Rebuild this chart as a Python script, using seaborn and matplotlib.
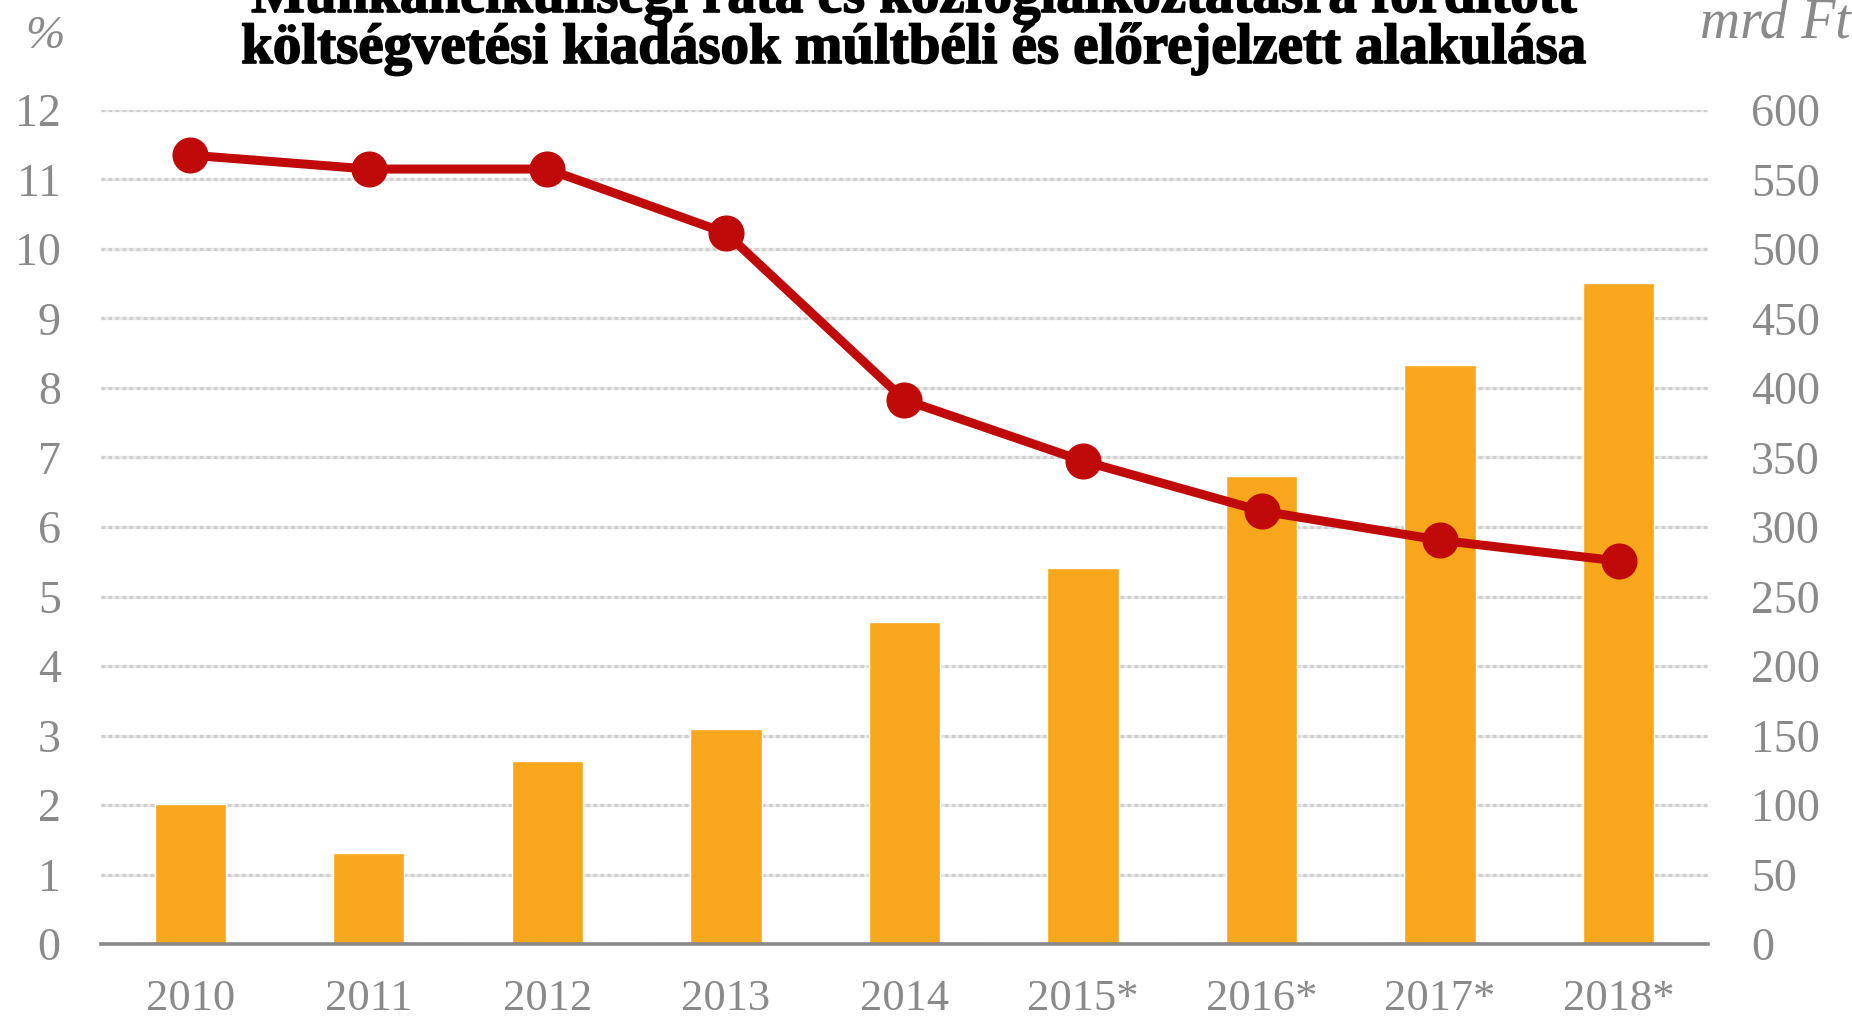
import matplotlib
matplotlib.use("Agg")
import matplotlib.pyplot as plt
import matplotlib.patheffects as pe
import seaborn as sns
import numpy as np
import pandas as pd

# ---- data ----
years = ["2010", "2011", "2012", "2013", "2014", "2015*", "2016*", "2017*", "2018*"]
spending_bn_huf = [101, 65.5, 132, 155, 232, 270.5, 337, 416.5, 475.5]    # right axis, mrd Ft
unemployment_pct = [11.35, 11.15, 11.15, 10.23, 7.83, 6.95, 6.23, 5.81, 5.51]  # left axis, %
left_ticks = list(range(0, 13, 1))
right_ticks = list(range(0, 601, 50))
title_line1 = "Munkanélküliségi ráta és közfoglalkoztatásra fordított"
title_line2 = "költségvetési kiadások múltbéli és előrejelzett alakulása"
left_unit = "%"
right_unit = "mrd Ft"

BAR = "#F8A71D"
RED = "#C00A0A"
TICK = "#8A8A8A"
SERIF = ["Liberation Serif", "DejaVu Serif"]

sns.set_theme(style="white")
plt.rcParams["font.family"] = SERIF

df = pd.DataFrame({"year": years, "spending": spending_bn_huf,
                   "rate": unemployment_pct, "pos": np.arange(len(years))})

fig = plt.figure(figsize=(18.52, 10.24), dpi=100)
fig.patch.set_facecolor("white")
ax = fig.add_axes([0.0545, 0.0781, 0.8677, 0.8145])

sns.barplot(data=df, x="year", y="spending", ax=ax, color=BAR, width=0.4,
            saturation=1, zorder=1)
ax.set_ylim(0, 600)
ax.set_yticks(right_ticks)
ax.set_axisbelow(True)
for t in ax.get_yticks()[1:]:
    ax.axhline(t, color="#E8E8E8", lw=2.3, zorder=0.3)
ax.yaxis.grid(True, color="#CFCFCF", linestyle=(0, (1.1, 1.1)), linewidth=2.3)
ax.xaxis.grid(False)

ax2 = ax.twinx()
sns.lineplot(data=df, x="pos", y="rate", ax=ax2, color=RED, linewidth=6.5,
             marker="o", markersize=26, markeredgewidth=0, zorder=3)
ax2.set_ylim(0, 12)
ax2.set_yticks(left_ticks)
ax2.grid(False)

# axis sides: % on the left (line), mrd Ft on the right (bars)
ax.yaxis.tick_right()
ax2.yaxis.tick_left()
ax.set_xlim(-0.5, len(years) - 0.5)

for a in (ax, ax2):
    a.set_xlabel("")
    a.set_ylabel("")
    for s in a.spines.values():
        s.set_visible(False)
ax.spines["bottom"].set_visible(True)
ax.spines["bottom"].set_color("#888888")
ax.spines["bottom"].set_linewidth(2.6)
ax.spines["bottom"].set_zorder(2)

ax.tick_params(axis="y", length=0, pad=31, labelsize=33, labelcolor=TICK)
ax.tick_params(axis="x", length=0, pad=25, labelsize=32, labelcolor=TICK)
ax2.tick_params(axis="y", length=0, pad=29, labelsize=33, labelcolor=TICK)

# title (first line partly cut off by the top edge, as in the reference)
heavy = [pe.withStroke(linewidth=1.2, foreground="black")]
fig.text(0.494, 1 - 12 / 1024, title_line1, ha="center", va="baseline",
         fontsize=41, fontweight="bold", color="black", family=SERIF,
         path_effects=heavy)
fig.text(0.494, 1 - 63 / 1024, title_line2, ha="center", va="baseline",
         fontsize=41, fontweight="bold", color="black", family=SERIF,
         path_effects=heavy)

fig.text(45 / 1852, 1 - 48 / 1024, left_unit, ha="center", va="baseline",
         fontsize=34, style="italic", color=TICK, family=SERIF)
fig.text(1700 / 1852, 1 - 37 / 1024, right_unit, ha="left", va="baseline",
         fontsize=40, style="italic", color=TICK, family=SERIF)

fig.savefig("out.png", dpi=100, facecolor="white")
